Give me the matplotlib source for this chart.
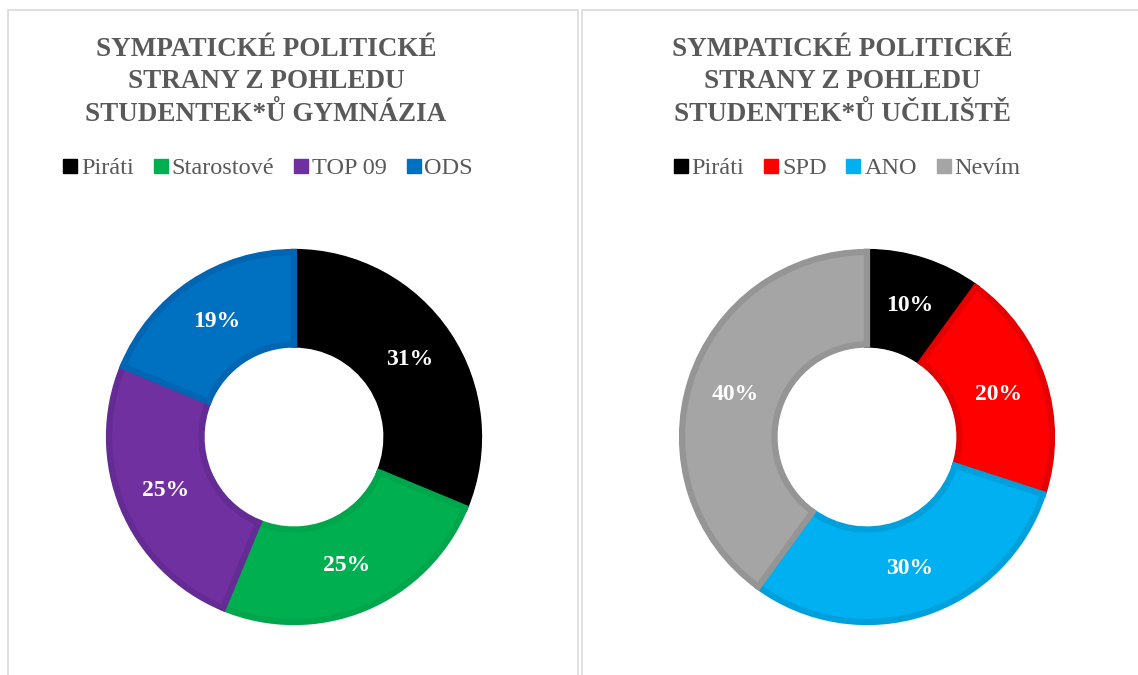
import matplotlib.pyplot as plt
from matplotlib.lines import Line2D
from matplotlib.patches import Rectangle

# data
left_title = ['SYMPATICKÉ POLITICKÉ', 'STRANY Z POHLEDU', 'STUDENTEK*Ů GYMNÁZIA']
left_labels = ['Piráti', 'Starostové', 'TOP 09', 'ODS']
left_values = [5, 4, 4, 3]
left_colors = ['#000000', '#00B050', '#7030A0', '#0070C0']
left_edges = ['#000000', '#00A64B', '#642B94', '#0066B3']

right_title = ['SYMPATICKÉ POLITICKÉ', 'STRANY Z POHLEDU', 'STUDENTEK*Ů UČILIŠTĚ']
right_labels = ['Piráti', 'SPD', 'ANO', 'Nevím']
right_values = [10, 20, 30, 40]
right_colors = ['#000000', '#FF0000', '#00B0F0', '#A5A5A5']
right_edges = ['#000000', '#E60000', '#00A0DC', '#959595']

W, H = 1138, 675
SERIF = 'Liberation Serif'
GREY = '#595959'

fig = plt.figure(figsize=(W / 100, H / 100), dpi=100)


def fx(px):
    return px / W


def fy(py):
    return 1 - py / H


def donut(cx, cy, values, colors, edges, labels, title, tx, lx):
    r = 185
    ax = fig.add_axes([fx(cx - r), fy(cy + r), 2 * r / W, 2 * r / H])
    wedges, texts, autotexts = ax.pie(
        values, colors=colors, startangle=90, counterclock=False, radius=1,
        wedgeprops=dict(width=0.5, linewidth=0),
        autopct='%.0f%%', pctdistance=0.75,
        textprops=dict(color='white', fontsize=17, fontweight='bold', family=SERIF))
    # Excel-like darker inner border on each slice
    for w, ec in zip(wedges, edges):
        w.set_edgecolor(ec)
        w.set_linewidth(4.5)
        w.set_clip_path(w)
    ax.set_xlim(-1, 1)
    ax.set_ylim(-1, 1)
    ax.set_aspect('equal')
    ax.axis('off')

    # title lines placed on their own baselines
    for line, base in zip(title, [56, 88.5, 121]):
        fig.text(fx(tx), fy(base), line, ha='center', va='baseline', family=SERIF,
                 fontsize=19.5, fontweight='bold', color=GREY)

    handles = [Line2D([], [], marker='s', linestyle='none', markersize=10,
                      markerfacecolor=c, markeredgecolor=c) for c in colors]
    fig.legend(handles, labels, loc='center', bbox_to_anchor=(fx(lx), fy(168)),
               ncol=len(labels), frameon=False, handlelength=0.6,
               handletextpad=0.15, columnspacing=0.8,
               prop=dict(family=SERIF, size=17.5), labelcolor=GREY)


donut(294, 437, left_values, left_colors, left_edges, left_labels, left_title, 266, 268)
donut(867, 437, right_values, right_colors, right_edges, right_labels, right_title, 842, 847)

# panel frames
for x0, x1 in [(8, 578), (582, 1150)]:
    fig.patches.append(Rectangle((fx(x0), fy(690)), fx(x1 - x0), (690 - 10) / H,
                                 transform=fig.transFigure, fill=False,
                                 edgecolor='#D9D9D9', linewidth=1.2))

fig.savefig('out.png', dpi=100)
